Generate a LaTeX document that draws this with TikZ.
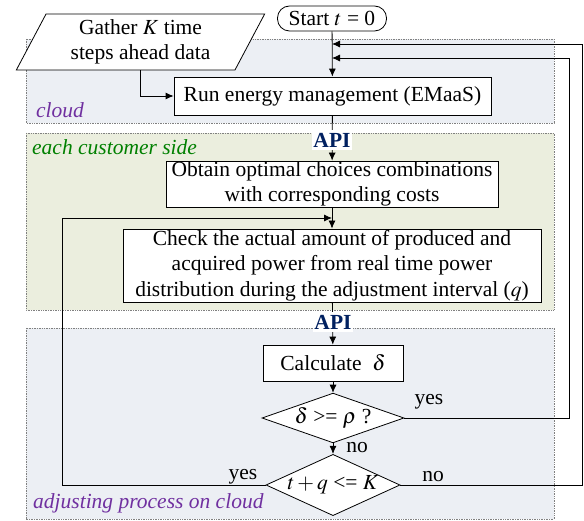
\documentclass[tikz,border=0pt]{standalone}
\usepackage{mathptmx}
\usepackage{fontspec}
\setmainfont{Liberation Serif}
\usetikzlibrary{shapes.geometric,arrows.meta,positioning}
\definecolor{cloudbg}{RGB}{236,239,244}
\definecolor{custbg}{RGB}{235,238,222}
\definecolor{apiblue}{RGB}{0,32,96}
\definecolor{labpurple}{RGB}{112,48,160}
\definecolor{labgreen}{RGB}{0,128,0}
\begin{document}
\begin{tikzpicture}[x=1pt,y=-1pt,
    font=\fontsize{21.5}{25.5}\selectfont,
    every node/.style={inner sep=0pt},
    procbox/.style={draw,fill=white,line width=0.8pt,align=center},
    decbox/.style={draw,fill=white,diamond,line width=0.8pt,inner sep=-12pt},
    panel/.style={draw=gray,densely dotted,line width=0.7pt},
    panellab/.style={anchor=west,font=\fontsize{21.5}{25.5}\selectfont\itshape},
    apilabel/.style={fill=white,text=apiblue,inner xsep=1pt,inner ysep=3pt,
      font=\fontsize{21.5}{25.5}\selectfont\bfseries},
    flow/.style={-{Latex[length=8pt,width=7pt]},line width=0.8pt}]
      \useasboundingbox (0,0) rectangle (584,521);
      % the three zones
      \filldraw[panel,fill=cloudbg] (26,39) rectangle (554,123);
      \filldraw[panel,fill=custbg] (26,133) rectangle (554,310);
      \filldraw[panel,fill=cloudbg] (26,328) rectangle (554,519);
      \node[panellab,text=labpurple] (cloudlab) at (36,110) {cloud};
      \node[panellab,text=labgreen] (custlab) at (32,147) {each customer side};
      \node[panellab,text=labpurple] (adjlab) at (33,503) {adjusting process on cloud};
      % steps
      \node[procbox,rounded corners=12pt,minimum width=109pt,minimum height=25pt] (start) at (332,18.5) {Start $t$ = 0};
      \node[draw,fill=white,trapezium,trapezium left angle=64,trapezium right angle=116,
        trapezium stretches=true,minimum width=249pt,minimum height=56pt,
        align=center,line width=0.8pt] (gather) at (140.5,42) {Gather $K$ time\\steps ahead data};
      \node[procbox,minimum width=317pt,minimum height=38pt] (run) at (332.5,96) {Run energy management (EMaaS)};
      \node[procbox,minimum width=332pt,minimum height=46pt] (obtain) at (332,184) {Obtain optimal choices combinations\\with corresponding costs};
      \node[procbox,minimum width=418pt,minimum height=73pt] (check) at (332,265.5) {Check the actual amount of produced and\\acquired power from real time power\\distribution during the adjustment interval ($q$)};
      \node[procbox,minimum width=140pt,minimum height=36pt] (calc) at (333,363) {Calculate \ $\delta$};
      \node[decbox,minimum width=142pt,minimum height=47pt] (dia1) at (333,418) {$\delta$ >= $\rho$ ?};
      \node[decbox,minimum width=134pt,minimum height=53pt] (dia2) at (333,485) {$t+q$ <= $K$};
      % where the loops come back in
      \coordinate (noin) at (332,44);
      \coordinate (yesin) at (332,58);
      \coordinate (loopin) at (332,218);
      \draw[flow] (start) -- (run);
      \draw[flow] (gather.south) |- (run.west);
      \draw[flow] (run) -- (obtain);
      \draw[flow] (obtain) -- (check);
      \draw[flow] (check) -- (calc);
      \draw[flow] (calc) -- (dia1);
      \draw[flow] (dia1) -- (dia2);
      \draw[flow] (dia1.east) -- ++(165,0) |- (yesin);
      \draw[flow] (dia2.east) -- ++(182,0) |- (noin);
      \draw[flow] (dia2.west) -- ++(-203,0) |- (loopin);
      \node (no1) at (357,448) {no};
      \node (yes1) at (429,402) {yes};
      \node (no2) at (433,477) {no};
      \node (yes2) at (243,477) {yes};
      \node[apilabel] (api1) at (332,140) {API};
      \node[apilabel] (api2) at (333,322) {API};
\end{tikzpicture}
\end{document}
